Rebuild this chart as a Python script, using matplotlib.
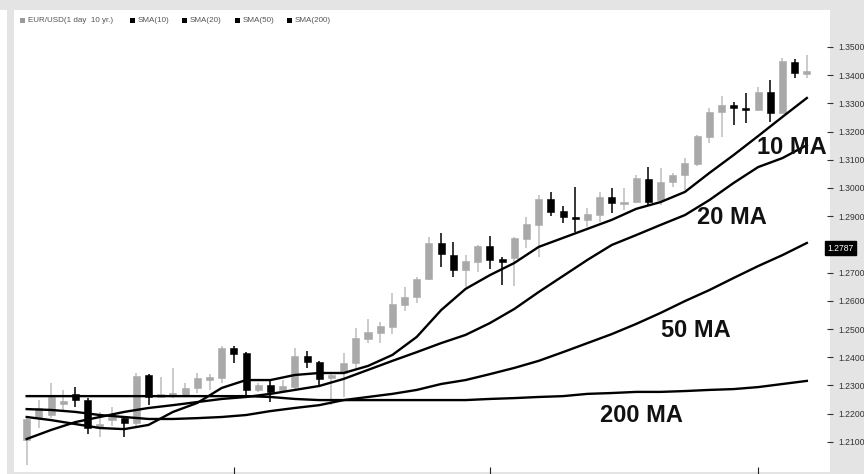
import matplotlib
matplotlib.use("Agg")
import matplotlib.pyplot as plt
from matplotlib.patches import Rectangle

plt.rcParams['font.family'] = ['Liberation Sans', 'DejaVu Sans']

# EUR/USD daily candles (index 0 = first visible day)
opens = [1.2106, 1.2184, 1.2195, 1.2234, 1.2270, 1.2248, 1.2149, 1.2177, 1.2184, 1.2167,
         1.2337, 1.2259, 1.2262, 1.2266, 1.2291, 1.2319, 1.2326, 1.2433, 1.2415, 1.2284,
         1.2301, 1.2284, 1.2294, 1.2404, 1.2383, 1.2326, 1.2344, 1.2379, 1.2465, 1.2486,
         1.2507, 1.2585, 1.2613, 1.2677, 1.2805, 1.2762, 1.2709, 1.2738, 1.2794, 1.2748,
         1.2752, 1.2819, 1.2869, 1.2961, 1.2918, 1.2897, 1.2887, 1.2904, 1.2968, 1.2943,
         1.2950, 1.3032, 1.2957, 1.3021, 1.3046, 1.3085, 1.3181, 1.3270, 1.3294, 1.3284,
         1.3277, 1.3340, 1.3266, 1.3447, 1.3404]
highs = [1.2188, 1.2248, 1.2309, 1.2284, 1.2294, 1.2255, 1.2206, 1.2223, 1.2191, 1.2344,
         1.2340, 1.2330, 1.2362, 1.2309, 1.2344, 1.2340, 1.2440, 1.2440, 1.2418, 1.2309,
         1.2319, 1.2319, 1.2433, 1.2422, 1.2387, 1.2344, 1.2415, 1.2504, 1.2535, 1.2525,
         1.2628, 1.2649, 1.2684, 1.2826, 1.2840, 1.2809, 1.2762, 1.2798, 1.2830, 1.2755,
         1.2826, 1.2897, 1.2975, 1.2986, 1.2936, 1.3004, 1.2929, 1.2986, 1.3000, 1.3000,
         1.3046, 1.3074, 1.3071, 1.3053, 1.3106, 1.3188, 1.3284, 1.3326, 1.3305, 1.3337,
         1.3358, 1.3383, 1.3461, 1.3457, 1.3472]
lows = [1.2018, 1.2149, 1.2184, 1.2213, 1.2223, 1.2128, 1.2117, 1.2156, 1.2117, 1.2156,
        1.2230, 1.2255, 1.2255, 1.2259, 1.2273, 1.2284, 1.2309, 1.2379, 1.2259, 1.2277,
        1.2241, 1.2273, 1.2284, 1.2362, 1.2294, 1.2230, 1.2259, 1.2355, 1.2450, 1.2450,
        1.2482, 1.2564, 1.2592, 1.2674, 1.2720, 1.2684, 1.2649, 1.2702, 1.2713, 1.2656,
        1.2652, 1.2787, 1.2755, 1.2901, 1.2876, 1.2844, 1.2862, 1.2879, 1.2911, 1.2922,
        1.2947, 1.2940, 1.2940, 1.3004, 1.2993, 1.3078, 1.3160, 1.3181, 1.3223, 1.3230,
        1.3273, 1.3234, 1.3266, 1.3390, 1.3390]
closes = [1.2181, 1.2220, 1.2259, 1.2245, 1.2248, 1.2149, 1.2163, 1.2188, 1.2167, 1.2333,
          1.2259, 1.2270, 1.2273, 1.2291, 1.2326, 1.2330, 1.2433, 1.2411, 1.2284, 1.2301,
          1.2277, 1.2298, 1.2404, 1.2383, 1.2323, 1.2337, 1.2379, 1.2468, 1.2489, 1.2511,
          1.2589, 1.2613, 1.2677, 1.2805, 1.2766, 1.2709, 1.2741, 1.2794, 1.2745, 1.2738,
          1.2823, 1.2872, 1.2961, 1.2915, 1.2897, 1.2890, 1.2908, 1.2968, 1.2947, 1.2950,
          1.3035, 1.2950, 1.3021, 1.3046, 1.3089, 1.3184, 1.3270, 1.3294, 1.3284, 1.3277,
          1.3340, 1.3266, 1.3450, 1.3408, 1.3415]

# moving averages, read every second day
ma_days = list(range(0, 65, 2))
sma10 = [1.2188, 1.2177, 1.2163, 1.2149, 1.2145, 1.2160, 1.2206, 1.2238, 1.2291, 1.2319,
         1.2319, 1.2337, 1.2344, 1.2344, 1.2369, 1.2408, 1.2472, 1.2567, 1.2642, 1.2691,
         1.2734, 1.2791, 1.2823, 1.2855, 1.2887, 1.2926, 1.2950, 1.2986, 1.3053, 1.3117,
         1.3184, 1.3252, 1.3319]
sma20 = [1.2110, 1.2142, 1.2170, 1.2188, 1.2206, 1.2220, 1.2230, 1.2241, 1.2252, 1.2259,
         1.2270, 1.2284, 1.2298, 1.2323, 1.2355, 1.2387, 1.2418, 1.2450, 1.2479, 1.2521,
         1.2571, 1.2631, 1.2688, 1.2745, 1.2798, 1.2833, 1.2869, 1.2904, 1.2957, 1.3018,
         1.3074, 1.3106, 1.3152]
sma50 = [1.2216, 1.2213, 1.2206, 1.2195, 1.2188, 1.2181, 1.2181, 1.2184, 1.2188, 1.2195,
         1.2209, 1.2220, 1.2230, 1.2248, 1.2259, 1.2270, 1.2284, 1.2305, 1.2319, 1.2340,
         1.2362, 1.2387, 1.2418, 1.2450, 1.2482, 1.2518, 1.2557, 1.2599, 1.2638, 1.2681,
         1.2723, 1.2762, 1.2805]
sma200 = [1.2262, 1.2262, 1.2262, 1.2262, 1.2262, 1.2262, 1.2262, 1.2262, 1.2262, 1.2262,
          1.2259, 1.2252, 1.2248, 1.2248, 1.2248, 1.2248, 1.2248, 1.2248, 1.2248, 1.2252,
          1.2255, 1.2259, 1.2262, 1.2270, 1.2273, 1.2277, 1.2277, 1.2280, 1.2284, 1.2287,
          1.2294, 1.2305, 1.2316]

# 1.2800 is hidden under the last-price box on the chart
price_ticks = [1.21, 1.22, 1.23, 1.24, 1.25, 1.26, 1.27, 1.29, 1.30,
               1.31, 1.32, 1.33, 1.34, 1.35]
last_price = 1.2787
month_ticks = [17, 38, 60]

legend_items = ['EUR/USD(1 day  10 yr.)', 'SMA(10)', 'SMA(20)', 'SMA(50)', 'SMA(200)']
ma_labels = ['10 MA', '20 MA', '50 MA', '200 MA']

W, H = 864, 474
fig = plt.figure(figsize=(W / 100, H / 100), dpi=100, facecolor='#e4e4e4')
fig.patches.append(Rectangle((0, 0), 7 / W, 464 / H, transform=fig.transFigure,
                             facecolor='white', edgecolor='none'))
ax = fig.add_axes([14 / W, 2 / H, 816 / W, 462 / H])
ax.set_facecolor('white')

# bougies
days = list(range(len(opens)))
up = [c >= o for o, c in zip(opens, closes)]
body_col = ['#a9a9a9' if u else '#000000' for u in up]
wick_col = ['#bdbdbd' if u else '#000000' for u in up]
bottoms = [min(o, c) for o, c in zip(opens, closes)]
heights = [max(abs(c - o), 0.0005) for o, c in zip(opens, closes)]
ax.vlines(days, lows, highs, colors=wick_col, linewidth=1.1, zorder=1)
ax.bar(days, heights, bottom=bottoms, width=0.58, color=body_col,
       edgecolor=body_col, linewidth=0.4, zorder=2)

# moyennes mobiles
for ma in (sma10, sma20, sma50, sma200):
    ax.plot(ma_days, ma, color='black', linewidth=1.7, zorder=3)

ax.set_xlim(-1.04, 65.9)
ax.set_ylim(1.1993, 1.3631)

ax.yaxis.tick_right()
ax.set_yticks(price_ticks)
ax.set_yticklabels(['%.4f' % p for p in price_ticks])
ax.tick_params(axis='y', direction='inout', length=4, width=0.8, pad=4,
               labelsize=6.2, labelcolor='#333333', colors='#333333')
ax.set_xticks(month_ticks)
ax.set_xticklabels([])
ax.tick_params(axis='x', direction='inout', length=7, width=0.8, colors='#222222')
for s in ax.spines.values():
    s.set_visible(False)

# dernier cours encadré
ax.text(0.997, last_price, '%.4f' % last_price, transform=ax.get_yaxis_transform(),
        ha='left', va='center', fontsize=6.2, color='white',
        bbox=dict(boxstyle='square,pad=0.3', facecolor='black', edgecolor='black'))

# étiquettes des moyennes
label_pos = [(59.9, 1.3142), (55.0, 1.2894), (52.0, 1.2496), (47.0, 1.2195)]
for txt, (x, y) in zip(ma_labels, label_pos):
    ax.text(x, y, txt, fontsize=17, fontweight='bold', ha='left', va='center',
            color='#111111', zorder=4)

# légende en haut
leg_x = [20, 130, 182, 235, 287]
for i, (lx, name) in enumerate(zip(leg_x, legend_items)):
    col = '#9a9a9a' if i == 0 else 'black'
    fig.patches.append(Rectangle((lx / W, 1 - 23 / H), 5 / W, 5 / H,
                                 transform=fig.transFigure, facecolor=col,
                                 edgecolor='none'))
    fig.text((lx + 8) / W, 1 - 20.5 / H, name, fontsize=5.8, color='#555555',
             ha='left', va='center')

fig.savefig('out.png', dpi=100, facecolor=fig.get_facecolor())
